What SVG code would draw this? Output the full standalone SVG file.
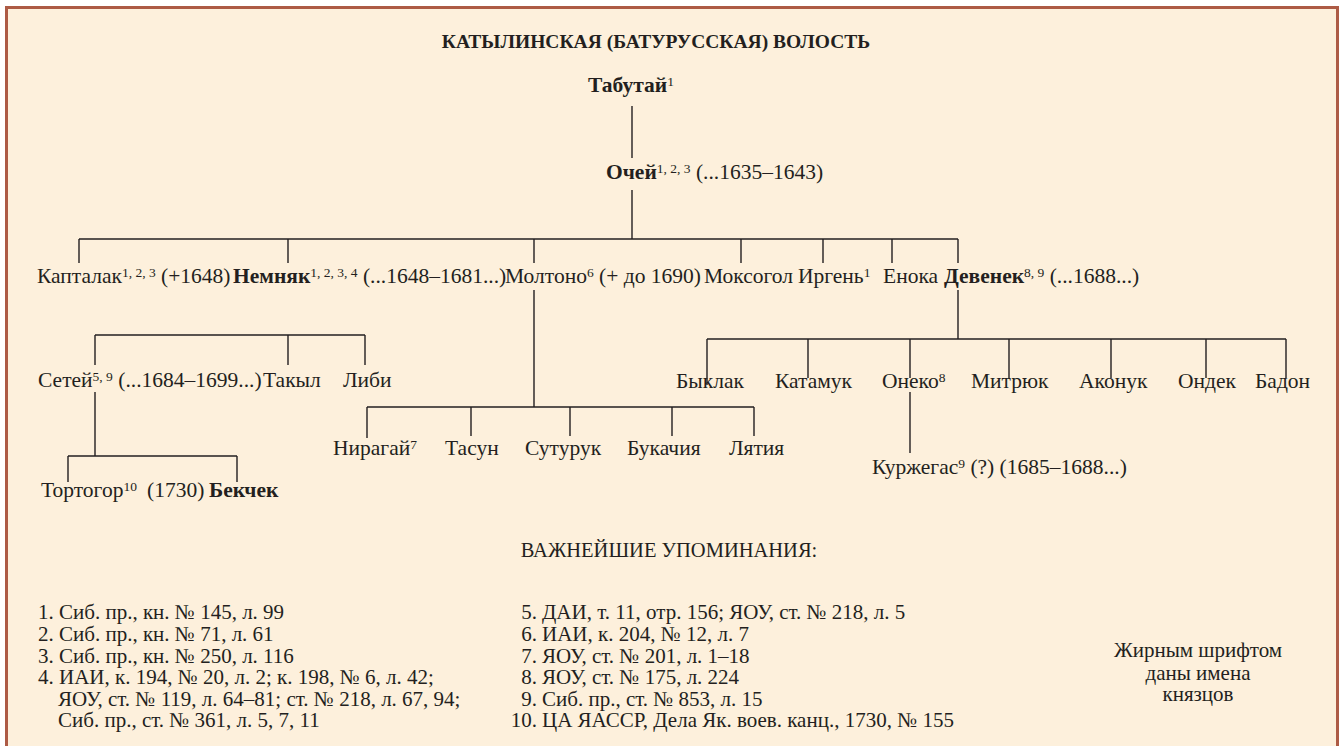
<svg xmlns="http://www.w3.org/2000/svg" width="1341" height="746" viewBox="0 0 1341 746">
<rect x="0" y="0" width="1341" height="746" fill="#ffffff"/>
<rect x="6.5" y="7.5" width="1331" height="760" fill="#fdf0dc" stroke="#ad5b45" stroke-width="3"/>
<g id="connectors" fill="none" stroke="#231f20" stroke-width="1.4">
<path d="M632,106V158"/>
<path d="M632,190V239"/>
<path d="M79,239H958M79,239V263M288,239V263M534,239V263M741,239V263M823,239V263M892,239V263M958,239V263"/>
<path d="M95,335H365M95,335V365M288,335V365M365,335V365"/>
<path d="M95,392V456M68,456H237M68,456V482M237,456V482"/>
<path d="M534,290V407M367,407H754M367,407V438M471,407V436M570,407V436M672,407V436M754,407V436"/>
<path d="M958,290V339M707,339H1286M707,339V385M808,339V378M910,339V378M1009,339V378M1111,339V378M1206,339V378M1286,339V378"/>
<path d="M910,392V453"/>
</g>
<g id="title"><text font-family="Liberation Serif" font-size="19.5" font-weight="bold" fill="#231f20" x="656" y="48" text-anchor="middle">КАТЫЛИНСКАЯ (БАТУРУССКАЯ) ВОЛОСТЬ</text></g>
<g id="n-tabutai"><text font-family="Liberation Serif" font-size="21.5" fill="#231f20" x="588" y="92"><tspan font-weight="bold">Табутай</tspan><tspan font-size="13.5" dy="-6.5">1</tspan></text></g>
<g id="n-ochey"><text font-family="Liberation Serif" font-size="21.5" fill="#231f20" x="606" y="179"><tspan font-weight="bold">Очей</tspan><tspan font-size="13.5" dy="-6.5">1, 2, 3</tspan><tspan dy="6.5"> (...1635–1643)</tspan></text></g>
<g id="n-kaptalak"><text font-family="Liberation Serif" font-size="21.5" fill="#231f20" x="37" y="283">Капталак<tspan font-size="13.5" dy="-6.5">1, 2, 3</tspan><tspan dy="6.5"> (+1648)</tspan></text></g>
<g id="n-nemnyak"><text font-family="Liberation Serif" font-size="21.5" fill="#231f20" x="233" y="283"><tspan font-weight="bold">Немняк</tspan><tspan font-size="13.5" dy="-6.5">1, 2, 3, 4</tspan><tspan dy="6.5"> (...1648–1681...)</tspan></text></g>
<g id="n-moltono"><text font-family="Liberation Serif" font-size="21.5" fill="#231f20" x="505" y="283">Молтоно<tspan font-size="13.5" dy="-6.5">6</tspan><tspan dy="6.5"> (+ до 1690)</tspan></text></g>
<g id="n-moksogol"><text font-family="Liberation Serif" font-size="21.5" fill="#231f20" x="704" y="283">Моксогол</text></g>
<g id="n-irgen"><text font-family="Liberation Serif" font-size="21.5" fill="#231f20" x="798" y="283">Иргень<tspan font-size="13.5" dy="-6.5">1</tspan></text></g>
<g id="n-enoka"><text font-family="Liberation Serif" font-size="21.5" fill="#231f20" x="883" y="283">Енока</text></g>
<g id="n-devenek"><text font-family="Liberation Serif" font-size="21.5" fill="#231f20" x="944" y="283"><tspan font-weight="bold">Девенек</tspan><tspan font-size="13.5" dy="-6.5">8, 9</tspan><tspan dy="6.5"> (...1688...)</tspan></text></g>
<g id="n-setey"><text font-family="Liberation Serif" font-size="21.5" fill="#231f20" x="38" y="387">Сетей<tspan font-size="13.5" dy="-6.5">5, 9</tspan><tspan dy="6.5"> (...1684–1699...)</tspan></text></g>
<g id="n-takyl"><text font-family="Liberation Serif" font-size="21.5" fill="#231f20" x="263" y="387">Такыл</text></g>
<g id="n-libi"><text font-family="Liberation Serif" font-size="21.5" fill="#231f20" x="343" y="387">Либи</text></g>
<g id="n-tortogor"><text font-family="Liberation Serif" font-size="21.5" fill="#231f20" x="41" y="497">Тортогор<tspan font-size="13.5" dy="-6.5">10</tspan><tspan x="147" dy="6.5">(1730)</tspan></text></g>
<g id="n-bekchek"><text font-family="Liberation Serif" font-size="21.5" font-weight="bold" fill="#231f20" x="209" y="497">Бекчек</text></g>
<g id="n-niragai"><text font-family="Liberation Serif" font-size="21.5" fill="#231f20" x="333" y="455">Нирагай<tspan font-size="13.5" dy="-6.5">7</tspan></text></g>
<g id="n-tasun"><text font-family="Liberation Serif" font-size="21.5" fill="#231f20" x="445" y="455">Тасун</text></g>
<g id="n-suturuk"><text font-family="Liberation Serif" font-size="21.5" fill="#231f20" x="525" y="455">Сутурук</text></g>
<g id="n-bukachiya"><text font-family="Liberation Serif" font-size="21.5" fill="#231f20" x="627" y="455">Букачия</text></g>
<g id="n-lyatiya"><text font-family="Liberation Serif" font-size="21.5" fill="#231f20" x="729" y="455">Лятия</text></g>
<g id="n-byklak"><text font-family="Liberation Serif" font-size="21.5" fill="#231f20" x="676" y="388">Быклак</text></g>
<g id="n-katamuk"><text font-family="Liberation Serif" font-size="21.5" fill="#231f20" x="775" y="388">Катамук</text></g>
<g id="n-oneko"><text font-family="Liberation Serif" font-size="21.5" fill="#231f20" x="882" y="388">Онеко<tspan font-size="13.5" dy="-6.5">8</tspan></text></g>
<g id="n-mitryuk"><text font-family="Liberation Serif" font-size="21.5" fill="#231f20" x="971" y="388">Митрюк</text></g>
<g id="n-akonuk"><text font-family="Liberation Serif" font-size="21.5" fill="#231f20" x="1079" y="388">Аконук</text></g>
<g id="n-ondek"><text font-family="Liberation Serif" font-size="21.5" fill="#231f20" x="1178" y="388">Ондек</text></g>
<g id="n-badon"><text font-family="Liberation Serif" font-size="21.5" fill="#231f20" x="1255" y="388">Бадон</text></g>
<g id="n-kurzhegas"><text font-family="Liberation Serif" font-size="21.5" fill="#231f20" x="872" y="474">Куржегас<tspan font-size="13.5" dy="-6.5">9</tspan><tspan dy="6.5"> (?) (1685–1688...)</tspan></text></g>
<g id="references">
<text font-family="Liberation Serif" font-size="20.5" fill="#231f20" x="669" y="557" text-anchor="middle">ВАЖНЕЙШИЕ УПОМИНАНИЯ:</text>
<text font-family="Liberation Serif" font-size="21" fill="#231f20" x="38" y="619">1. Сиб. пр., кн. № 145, л. 99</text>
<text font-family="Liberation Serif" font-size="21" fill="#231f20" x="38" y="641">2. Сиб. пр., кн. № 71, л. 61</text>
<text font-family="Liberation Serif" font-size="21" fill="#231f20" x="38" y="663">3. Сиб. пр., кн. № 250, л. 116</text>
<text font-family="Liberation Serif" font-size="21" fill="#231f20" x="38" y="684">4. ИАИ, к. 194, № 20, л. 2; к. 198, № 6, л. 42;</text>
<text font-family="Liberation Serif" font-size="21" fill="#231f20" x="58" y="706">ЯОУ, ст. № 119, л. 64–81; ст. № 218, л. 67, 94;</text>
<text font-family="Liberation Serif" font-size="21" fill="#231f20" x="58" y="727">Сиб. пр., ст. № 361, л. 5, 7, 11</text>
<text font-family="Liberation Serif" font-size="21" fill="#231f20" x="537" y="619" text-anchor="end">5.</text>
<text font-family="Liberation Serif" font-size="21" fill="#231f20" x="542" y="619">ДАИ, т. 11, отр. 156; ЯОУ, ст. № 218, л. 5</text>
<text font-family="Liberation Serif" font-size="21" fill="#231f20" x="537" y="641" text-anchor="end">6.</text>
<text font-family="Liberation Serif" font-size="21" fill="#231f20" x="542" y="641">ИАИ, к. 204, № 12, л. 7</text>
<text font-family="Liberation Serif" font-size="21" fill="#231f20" x="537" y="663" text-anchor="end">7.</text>
<text font-family="Liberation Serif" font-size="21" fill="#231f20" x="542" y="663">ЯОУ, ст. № 201, л. 1–18</text>
<text font-family="Liberation Serif" font-size="21" fill="#231f20" x="537" y="684" text-anchor="end">8.</text>
<text font-family="Liberation Serif" font-size="21" fill="#231f20" x="542" y="684">ЯОУ, ст. № 175, л. 224</text>
<text font-family="Liberation Serif" font-size="21" fill="#231f20" x="537" y="706" text-anchor="end">9.</text>
<text font-family="Liberation Serif" font-size="21" fill="#231f20" x="542" y="706">Сиб. пр., ст. № 853, л. 15</text>
<text font-family="Liberation Serif" font-size="21" fill="#231f20" x="537" y="727" text-anchor="end">10.</text>
<text font-family="Liberation Serif" font-size="21" fill="#231f20" x="542" y="727">ЦА ЯАССР, Дела Як. воев. канц., 1730, № 155</text>
</g>
<g id="legend">
<text font-family="Liberation Serif" font-size="21" fill="#231f20" x="1198" y="657" text-anchor="middle">Жирным шрифтом</text>
<text font-family="Liberation Serif" font-size="21" fill="#231f20" x="1198" y="680" text-anchor="middle">даны имена</text>
<text font-family="Liberation Serif" font-size="21" fill="#231f20" x="1198" y="701" text-anchor="middle">князцов</text>
</g>
</svg>
